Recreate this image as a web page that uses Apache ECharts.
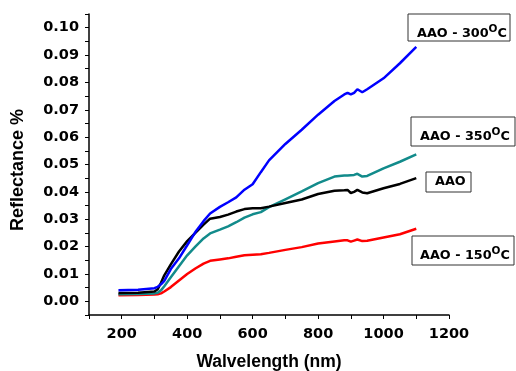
<!DOCTYPE html>
<html>
<head>
<meta charset="utf-8">
<script src="https://cdn.jsdelivr.net/npm/echarts@6/dist/echarts.min.js"></script>
<style>html,body{margin:0;padding:0;background:#fff}#c{width:516px;height:371px}</style>
</head>
<body>
<div id="c"></div>
<script>
// Wavelengths (nm)
var wavelengths = [190, 250, 300, 310, 320, 330, 350, 375, 400, 425, 450, 470, 500, 525, 550, 575, 600, 625, 650, 700, 750, 800, 850, 880, 890, 900, 910, 920, 935, 950, 1000, 1050, 1100];
// Reflectance series
var aao300 = [0.0040, 0.0042, 0.0048, 0.0053, 0.0062, 0.0075, 0.0118, 0.0157, 0.0205, 0.0253, 0.0293, 0.0321, 0.0345, 0.0362, 0.0380, 0.0408, 0.0428, 0.0472, 0.0515, 0.0575, 0.0627, 0.0682, 0.0732, 0.0756, 0.0762, 0.0756, 0.0762, 0.0775, 0.0764, 0.0775, 0.0815, 0.0870, 0.0930];
var aao = [0.0030, 0.0031, 0.0036, 0.0044, 0.0068, 0.0095, 0.0135, 0.0182, 0.0220, 0.0250, 0.0280, 0.0302, 0.0308, 0.0317, 0.0328, 0.0337, 0.0340, 0.0340, 0.0346, 0.0359, 0.0372, 0.0392, 0.0404, 0.0406, 0.0407, 0.0396, 0.0400, 0.0407, 0.0398, 0.0395, 0.0413, 0.0429, 0.0450];
var aao350 = [0.0026, 0.0027, 0.0029, 0.0031, 0.0040, 0.0055, 0.0088, 0.0128, 0.0168, 0.0200, 0.0230, 0.0248, 0.0262, 0.0274, 0.0289, 0.0306, 0.0318, 0.0326, 0.0344, 0.0373, 0.0402, 0.0432, 0.0456, 0.0460, 0.0460, 0.0461, 0.0462, 0.0466, 0.0456, 0.0458, 0.0486, 0.0510, 0.0537];
var aao150 = [0.0022, 0.0023, 0.0025, 0.0026, 0.0029, 0.0036, 0.0052, 0.0076, 0.0100, 0.0120, 0.0138, 0.0148, 0.0153, 0.0157, 0.0163, 0.0168, 0.0170, 0.0172, 0.0177, 0.0188, 0.0198, 0.0211, 0.0219, 0.0223, 0.0223, 0.0218, 0.0222, 0.0226, 0.0220, 0.0221, 0.0233, 0.0245, 0.0265];
// Tick labels
var xTickLabels = [200, 400, 600, 800, 1000, 1200];
var yTickLabels = ['0.00','0.01','0.02','0.03','0.04','0.05','0.06','0.07','0.08','0.09','0.10'];
// Annotation labels
var labelNames = ['AAO - 300', 'AAO - 350', 'AAO', 'AAO - 150'];

function zip(xs, ys){ return xs.map(function(x,i){ return [x, ys[i]]; }); }

var chart = echarts.init(document.getElementById('c'), null, {renderer:'canvas'});
var tickFont = {fontFamily:'DejaVu Sans', fontWeight:'bold', fontSize:14.5, color:'#000'};
function boxLabel(rect, tx, ty, main, withDeg){
  var txt = withDeg ? '{m|' + main + '}{s|O}{m|C}' : '{m|' + main + '}';
  return {
    type:'group',
    children:[
      {type:'rect', shape:rect, style:{fill:'#fff', stroke:'#333', lineWidth:1}},
      {type:'text', x:tx, y:ty, style:{
        text: txt, verticalAlign:'middle', align:'left',
        rich:{
          m:{fontFamily:'DejaVu Sans', fontWeight:'bold', fontSize:12.8, color:'#000', verticalAlign:'bottom'},
          s:{fontFamily:'DejaVu Sans', fontWeight:'bold', fontSize:10.5, color:'#000', verticalAlign:'bottom', padding:[0,0,6,0]}
        }
      }}
    ]
  };
}

chart.setOption({
  animation:false,
  backgroundColor:'#fff',
  grid:{left:89, right:67, top:14, bottom:56, containLabel:false, outerBoundsMode:'none'},
  xAxis:{
    type:'value', min:100, max:1200, interval:100,
    axisLine:{show:true, onZero:false, lineStyle:{color:'#000', width:1.5}},
    axisTick:{show:true, length:4, lineStyle:{color:'#000', width:1}},
    splitLine:{show:false},
    axisLabel:Object.assign({margin:12, formatter:function(v){ return xTickLabels.indexOf(v) >= 0 ? String(v) : ''; }}, tickFont),
    name:'Walvelength (nm)', nameLocation:'middle', nameGap:38,
    nameTextStyle:{fontFamily:'Liberation Sans', fontWeight:'bold', fontSize:17.5, color:'#000'}
  },
  yAxis:{
    type:'value', min:-0.005, max:0.105, interval:0.005,
    axisLine:{show:true, onZero:false, lineStyle:{color:'#000', width:1.5}},
    axisTick:{show:true, length:4, lineStyle:{color:'#000', width:1}},
    splitLine:{show:false},
    axisLabel:Object.assign({margin:10, padding:[5,0,0,0], formatter:function(v){
      var k = Math.round(v*1000);
      if (k < 0 || k % 10 !== 0) return '';
      return yTickLabels[k/10] || '';
    }}, tickFont),
    name:'Reflectance %', nameLocation:'middle', nameGap:62,
    nameTextStyle:{fontFamily:'Liberation Sans', fontWeight:'bold', fontSize:18, color:'#000', padding:[0,11,0,0]}
  },
  series:[
    {name:'AAO - 150', type:'line', showSymbol:false, data:zip(wavelengths, aao150), lineStyle:{color:'#ff0000', width:2.5}, itemStyle:{color:'#ff0000'}},
    {name:'AAO - 350', type:'line', showSymbol:false, data:zip(wavelengths, aao350), lineStyle:{color:'#128b8b', width:2.5}, itemStyle:{color:'#128b8b'}},
    {name:'AAO', type:'line', showSymbol:false, data:zip(wavelengths, aao), lineStyle:{color:'#000000', width:2.5}, itemStyle:{color:'#000'}},
    {name:'AAO - 300', type:'line', showSymbol:false, data:zip(wavelengths, aao300), lineStyle:{color:'#0000ff', width:2.5}, itemStyle:{color:'#0000ff'}}
  ],
  graphic:[
    boxLabel({x:408, y:14, width:102, height:27}, 417, 32, labelNames[0], true),
    boxLabel({x:411, y:117, width:104, height:29}, 420, 135, labelNames[1], true),
    boxLabel({x:426, y:172, width:45, height:20}, 435, 182, labelNames[2], false),
    boxLabel({x:412, y:236, width:102, height:29}, 420, 254, labelNames[3], true)
  ]
});
</script>
</body>
</html>
